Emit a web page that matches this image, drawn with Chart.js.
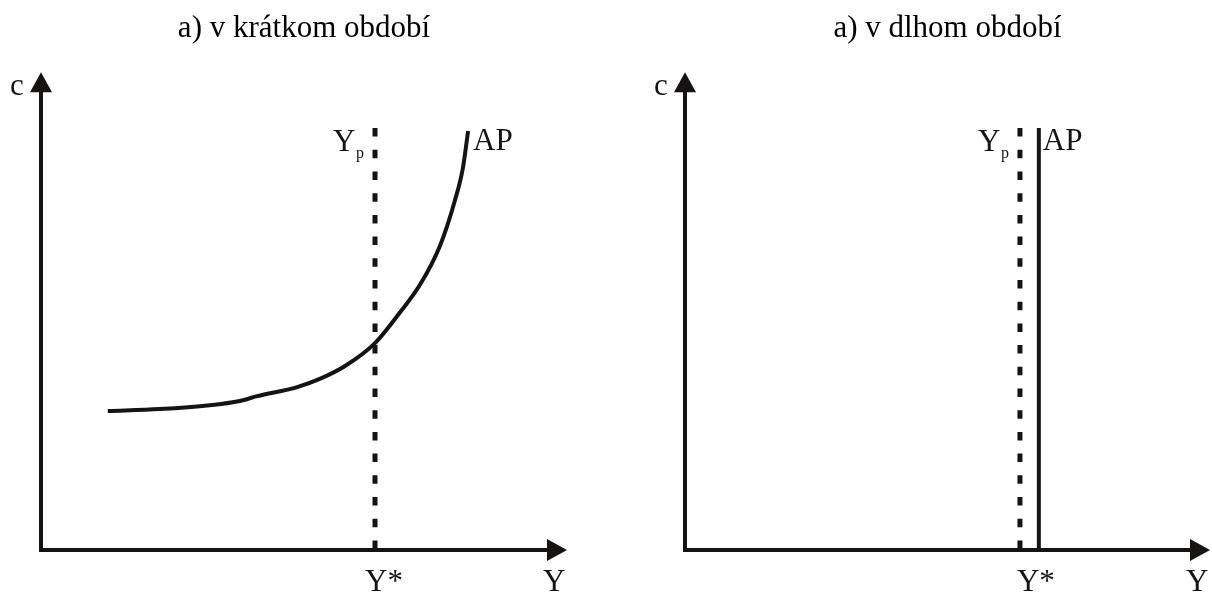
<!DOCTYPE html>
<html><head><meta charset="utf-8">
<script src="https://cdn.jsdelivr.net/npm/chart.js@4/dist/chart.umd.min.js"></script>
<style>
html,body{margin:0;padding:0;background:#fff;}
#wrap{position:relative;width:1212px;height:596px;background:#fff;}
.panel{position:absolute;top:0;width:606px;height:596px;}
</style></head><body>
<div id="wrap">
<div class="panel" style="left:0"><canvas id="c1" width="606" height="596"></canvas></div>
<div class="panel" style="left:606px"><canvas id="c2" width="606" height="596"></canvas></div>
</div>
<script>
// ---- texts ----
const panelTitles = ['a) v krátkom období', 'a) v dlhom období'];
const axisLabelY = 'c';
const axisLabelX = 'Y';
const equilibriumLabel = 'Y*';
const potentialLabel = 'Y';
const potentialSub = 'p';
const curveLabel = 'AP';

// ---- short-run AP curve (data units, axes 0..10) ----
const srCurveX = [1.27, 2.26, 3.21, 3.78, 4.11, 4.87, 5.30, 5.78, 6.35, 6.83, 7.21, 7.59, 7.87, 8.02, 8.12];
const srCurveY = [2.91, 2.95, 3.03, 3.12, 3.22, 3.41, 3.58, 3.85, 4.33, 4.98, 5.56, 6.38, 7.32, 7.99, 8.77];

// ---- vertical lines ----
const ypShortX = 6.35;   // potential output, short run panel
const ypLongX = 6.38;    // potential output, long run panel
const apLongX = 6.74;    // long-run AP
const vLineTop = 8.83;
const axisMin = 0, axisMax = 10;

const INK = '#161313';
const SERIF = "'Liberation Serif', 'Times New Roman', serif";

function axesPlugin(cfg) {
  return {
    id: 'econAxes',
    afterDatasetsDraw(chart) {
      const {ctx, chartArea: a, scales: {x, y}} = chart;
      const ox = x.getPixelForValue(axisMin), oy = y.getPixelForValue(axisMin);
      ctx.save();
      ctx.strokeStyle = INK; ctx.fillStyle = INK; ctx.lineWidth = 4; ctx.lineCap = 'butt';
      // vertical axis
      ctx.beginPath(); ctx.moveTo(ox, oy + 2); ctx.lineTo(ox, a.top + 18); ctx.stroke();
      ctx.beginPath(); ctx.moveTo(ox, a.top); ctx.lineTo(ox - 11, a.top + 20); ctx.lineTo(ox + 11, a.top + 20); ctx.closePath(); ctx.fill();
      // horizontal axis
      ctx.beginPath(); ctx.moveTo(ox - 2, oy); ctx.lineTo(a.right - 18, oy); ctx.stroke();
      ctx.beginPath(); ctx.moveTo(a.right, oy); ctx.lineTo(a.right - 20, oy - 11); ctx.lineTo(a.right - 20, oy + 11); ctx.closePath(); ctx.fill();
      // labels
      ctx.textBaseline = 'alphabetic'; ctx.textAlign = 'left';
      ctx.font = '31px ' + SERIF;
      ctx.fillText(axisLabelY, ox - 31, a.top + 23);
      ctx.fillText(axisLabelX, a.right - 24, oy + 41);
      const dpx = x.getPixelForValue(cfg.dashedX);
      const topPx = y.getPixelForValue(vLineTop);
      ctx.fillText(equilibriumLabel, dpx + cfg.starOffset, oy + 41);
      ctx.fillText(potentialLabel, dpx - 42, topPx + 23);
      ctx.fillText(curveLabel, x.getPixelForValue(cfg.apX) + cfg.apOffset, topPx + 22);
      ctx.font = '16px ' + SERIF;
      ctx.fillText(potentialSub, dpx - 19, topPx + 30);
      ctx.restore();
    }
  };
}

function makeChart(id, title, datasets, padding, cfg) {
  return new Chart(document.getElementById(id), {
    type: 'scatter',
    data: { datasets },
    options: {
      responsive: false, animation: false, devicePixelRatio: 1,
      layout: { padding },
      scales: {
        x: { type: 'linear', min: axisMin, max: axisMax, display: false },
        y: { type: 'linear', min: axisMin, max: axisMax, display: false }
      },
      plugins: {
        legend: { display: false }, tooltip: { enabled: false },
        title: { display: true, text: title, color: '#000',
                 font: { family: SERIF, size: 31, weight: 'normal' },
                 padding: { top: 10, bottom: 25 } }
      },
      elements: { point: { radius: 0 } }
    },
    plugins: [axesPlugin(cfg)]
  });
}

const dashedStyle = { borderColor: INK, borderWidth: 5, borderDash: [8.5, 13.2], showLine: true, pointRadius: 0, clip: false };

makeChart('c1', panelTitles[0], [
  { label: 'Yp', data: [{x: ypShortX, y: vLineTop}, {x: ypShortX, y: axisMin}], ...dashedStyle },
  { label: 'AP', data: srCurveX.map((v, i) => ({x: v, y: srCurveY[i]})), borderColor: INK, borderWidth: 4,
    showLine: true, pointRadius: 0, cubicInterpolationMode: 'monotone', clip: false }
], { left: 41, right: 39, top: 0, bottom: 46 },
{ dashedX: ypShortX, apX: srCurveX[srCurveX.length - 1], apOffset: 5, starOffset: -10 });

makeChart('c2', panelTitles[1], [
  { label: 'Yp', data: [{x: ypLongX, y: vLineTop}, {x: ypLongX, y: axisMin}], ...dashedStyle },
  { label: 'AP', data: [{x: apLongX, y: vLineTop}, {x: apLongX, y: axisMin}], borderColor: INK, borderWidth: 4,
    showLine: true, pointRadius: 0, clip: false }
], { left: 79, right: 2, top: 0, bottom: 46 },
{ dashedX: ypLongX, apX: apLongX, apOffset: 4, starOffset: -3 });
</script>
</body></html>
